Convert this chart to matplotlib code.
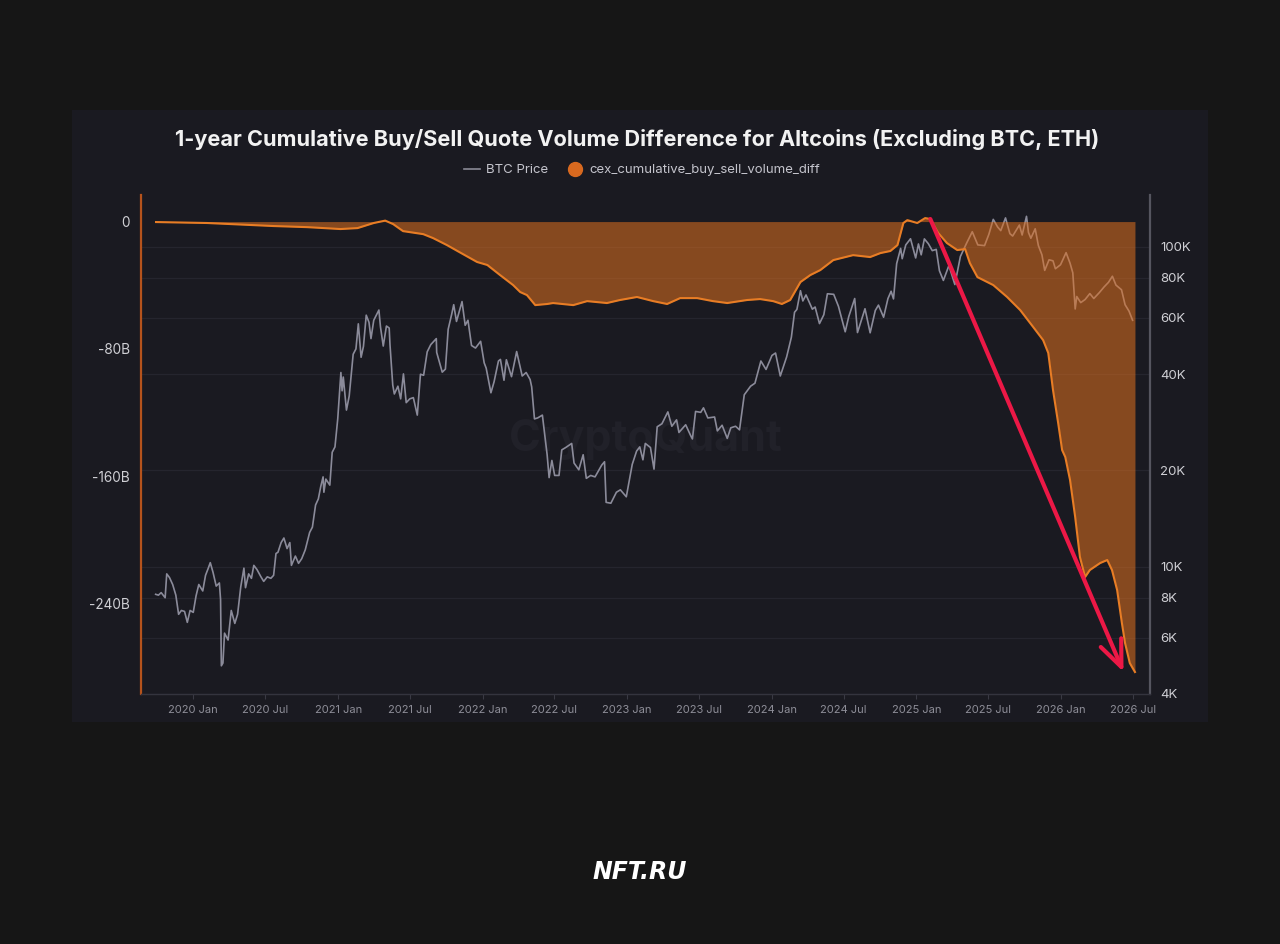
import matplotlib
matplotlib.use("Agg")
import matplotlib.pyplot as plt
import matplotlib.dates as mdates
from matplotlib.lines import Line2D
from matplotlib.patches import Rectangle
from matplotlib.ticker import NullLocator
import pandas as pd

plt.rcParams['font.family'] = ['Inter', 'DejaVu Sans']

# ---------------- data ----------------
diff_dates = [
    "2019-09-29", "2020-02-05", "2020-07-21", "2020-10-15", "2021-01-07", "2021-02-19",
    "2021-04-01", "2021-04-30", "2021-05-20", "2021-06-14", "2021-08-04", "2021-08-29",
    "2021-10-03", "2021-11-12", "2021-12-18", "2022-01-13", "2022-02-14", "2022-03-19",
    "2022-04-06", "2022-04-23", "2022-05-14", "2022-06-13", "2022-06-28", "2022-08-18",
    "2022-09-22", "2022-11-11", "2022-12-14", "2023-01-26", "2023-03-08", "2023-04-12",
    "2023-05-15", "2023-06-27", "2023-08-06", "2023-09-11", "2023-10-31", "2023-12-03",
    "2024-01-05", "2024-01-27", "2024-02-17", "2024-03-14", "2024-04-08", "2024-05-03",
    "2024-06-05", "2024-07-25", "2024-09-06", "2024-10-02", "2024-10-27", "2024-11-14",
    "2024-11-29", "2024-12-09", "2025-01-03", "2025-01-23", "2025-02-05", "2025-02-25",
    "2025-03-19", "2025-04-14", "2025-05-04", "2025-05-16", "2025-06-04", "2025-07-14",
    "2025-08-18", "2025-09-20", "2025-10-23", "2025-11-17", "2025-11-30", "2025-12-12",
    "2025-12-25", "2026-01-04", "2026-01-12", "2026-01-24", "2026-02-06", "2026-02-18",
    "2026-03-03", "2026-03-15", "2026-04-10", "2026-04-28", "2026-05-10", "2026-05-23",
    "2026-06-04", "2026-06-12", "2026-06-24", "2026-07-07",
]
diff_values_b = [
    -0.3, -0.9, -2.8, -3.5, -4.7, -4.1,
    -0.9, 0.6, -1.6, -6.0, -7.9, -10.4,
    -14.8, -20.4, -25.4, -27.3, -33.6, -39.9,
    -44.3, -46.2, -52.5, -51.8, -51.2, -52.5,
    -50.0, -51.2, -49.3, -47.4, -50.0, -51.8,
    -48.1, -48.1, -50.0, -51.2, -49.3, -48.7,
    -50.0, -51.8, -49.3, -38.0, -33.6, -30.5,
    -24.2, -21.1, -22.3, -19.8, -18.5, -14.8,
    -0.9, 0.9, -0.9, 2.2, 1.6, -7.2,
    -13.5, -17.9, -17.3, -26.1, -34.9, -39.9,
    -47.4, -55.6, -66.3, -74.5, -82.6, -105.9,
    -126.6, -143.6, -148.0, -162.4, -185.7, -210.8,
    -223.4, -219.0, -214.6, -212.7, -219.0, -231.6,
    -252.3, -264.9, -277.5, -283.1,
]

btc_dates = [
    "2019-09-28", "2019-10-05", "2019-10-12", "2019-10-22", "2019-10-26", "2019-11-02",
    "2019-11-10", "2019-11-18", "2019-11-25", "2019-12-02", "2019-12-10", "2019-12-17",
    "2019-12-24", "2020-01-01", "2020-01-08", "2020-01-15", "2020-01-25", "2020-02-01",
    "2020-02-08", "2020-02-13", "2020-02-20", "2020-02-28", "2020-03-07", "2020-03-10",
    "2020-03-12", "2020-03-16", "2020-03-20", "2020-03-29", "2020-04-06", "2020-04-15",
    "2020-04-22", "2020-04-30", "2020-05-08", "2020-05-12", "2020-05-20", "2020-05-27",
    "2020-06-02", "2020-06-10", "2020-06-20", "2020-06-27", "2020-07-06", "2020-07-15",
    "2020-07-22", "2020-07-28", "2020-08-02", "2020-08-10", "2020-08-17", "2020-08-25",
    "2020-09-01", "2020-09-05", "2020-09-15", "2020-09-23", "2020-10-01", "2020-10-10",
    "2020-10-21", "2020-10-28", "2020-11-05", "2020-11-12", "2020-11-18", "2020-11-24",
    "2020-11-26", "2020-12-01", "2020-12-11", "2020-12-17", "2020-12-24", "2020-12-31",
    "2021-01-08", "2021-01-11", "2021-01-14", "2021-01-22", "2021-01-29", "2021-02-08",
    "2021-02-15", "2021-02-21", "2021-02-28", "2021-03-06", "2021-03-13", "2021-03-20",
    "2021-03-25", "2021-04-01", "2021-04-14", "2021-04-18", "2021-04-25", "2021-05-03",
    "2021-05-10", "2021-05-12", "2021-05-19", "2021-05-23", "2021-06-01", "2021-06-08",
    "2021-06-15", "2021-06-22", "2021-07-01", "2021-07-10", "2021-07-20", "2021-07-28",
    "2021-08-05", "2021-08-14", "2021-08-23", "2021-09-06", "2021-09-07", "2021-09-21",
    "2021-09-29", "2021-10-06", "2021-10-15", "2021-10-20", "2021-10-27", "2021-11-08",
    "2021-11-10", "2021-11-18", "2021-11-25", "2021-12-04", "2021-12-14", "2021-12-27",
    "2022-01-05", "2022-01-10", "2022-01-22", "2022-01-30", "2022-02-10", "2022-02-15",
    "2022-02-24", "2022-03-02", "2022-03-15", "2022-03-28", "2022-04-11", "2022-04-21",
    "2022-05-01", "2022-05-05", "2022-05-12", "2022-05-20", "2022-06-01", "2022-06-13",
    "2022-06-18", "2022-06-25", "2022-07-02", "2022-07-13", "2022-07-20", "2022-07-30",
    "2022-08-14", "2022-08-20", "2022-09-01", "2022-09-12", "2022-09-20", "2022-10-01",
    "2022-10-12", "2022-10-29", "2022-11-05", "2022-11-09", "2022-11-21", "2022-12-05",
    "2022-12-15", "2022-12-30", "2023-01-14", "2023-01-25", "2023-02-02", "2023-02-10",
    "2023-02-16", "2023-03-01", "2023-03-10", "2023-03-18", "2023-03-30", "2023-04-14",
    "2023-04-24", "2023-05-06", "2023-05-12", "2023-05-29", "2023-06-10", "2023-06-15",
    "2023-06-23", "2023-07-06", "2023-07-13", "2023-07-24", "2023-08-10", "2023-08-17",
    "2023-08-29", "2023-09-11", "2023-09-20", "2023-10-02", "2023-10-12", "2023-10-24",
    "2023-11-09", "2023-11-20", "2023-12-05", "2023-12-18", "2024-01-02", "2024-01-11",
    "2024-01-23", "2024-02-08", "2024-02-20", "2024-02-28", "2024-03-05", "2024-03-14",
    "2024-03-20", "2024-03-28", "2024-04-13", "2024-04-20", "2024-05-01", "2024-05-12",
    "2024-05-21", "2024-06-06", "2024-06-18", "2024-07-05", "2024-07-14", "2024-07-29",
    "2024-08-05", "2024-08-24", "2024-09-06", "2024-09-19", "2024-09-27", "2024-10-10",
    "2024-10-21", "2024-10-29", "2024-11-04", "2024-11-12", "2024-11-22", "2024-11-26",
    "2024-12-05", "2024-12-17", "2024-12-30", "2025-01-06", "2025-01-13", "2025-01-21",
    "2025-01-31", "2025-02-10", "2025-02-20", "2025-02-28", "2025-03-10", "2025-03-24",
    "2025-04-08", "2025-04-22", "2025-05-08", "2025-05-22", "2025-06-05", "2025-06-22",
    "2025-07-03", "2025-07-14", "2025-07-25", "2025-08-02", "2025-08-14", "2025-08-25",
    "2025-09-01", "2025-09-18", "2025-09-25", "2025-10-06", "2025-10-11", "2025-10-17",
    "2025-10-28", "2025-11-05", "2025-11-14", "2025-11-21", "2025-12-02", "2025-12-12",
    "2025-12-18", "2025-12-31", "2026-01-14", "2026-01-24", "2026-01-31", "2026-02-06",
    "2026-02-10", "2026-02-20", "2026-03-03", "2026-03-15", "2026-03-25", "2026-04-08",
    "2026-04-20", "2026-05-01", "2026-05-11", "2026-05-20", "2026-06-03", "2026-06-12",
    "2026-06-22", "2026-07-01",
]
btc_price = [
    8200, 8150, 8300, 8000, 9500, 9250,
    8800, 8150, 7100, 7300, 7250, 6700,
    7300, 7200, 8100, 8800, 8400, 9400,
    9900, 10300, 9600, 8700, 8900, 7900,
    4900, 5000, 6200, 5900, 7300, 6650,
    7100, 8650, 9900, 8600, 9500, 9200,
    10100, 9800, 9300, 9000, 9300, 9200,
    9400, 11000, 11100, 11900, 12300, 11400,
    11900, 10100, 10800, 10250, 10600, 11300,
    12800, 13300, 15600, 16300, 17800, 19100,
    17100, 18800, 18000, 22800, 23700, 29000,
    40500, 35500, 39200, 30900, 34200, 46200,
    48000, 57500, 45200, 48900, 61200, 58100,
    51700, 59000, 63500, 56200, 49000, 56600,
    55800, 49500, 37000, 34700, 36700, 33500,
    40100, 32600, 33500, 33800, 29800, 40000,
    39700, 47000, 49500, 51700, 46800, 40600,
    41500, 55300, 61700, 66000, 58500, 66000,
    67500, 56900, 59000, 49200, 48300, 50700,
    43400, 41800, 35000, 37900, 44000, 44500,
    38300, 44400, 39300, 47100, 39500, 40500,
    38500, 36500, 29000, 29200, 29800, 22400,
    19000, 21500, 19300, 19300, 23200, 23600,
    24300, 21100, 20100, 22400, 18900, 19300,
    19100, 20800, 21300, 15900, 15800, 17100,
    17400, 16550, 20900, 23000, 23700, 21600,
    24300, 23600, 20200, 27400, 28000, 30500,
    27500, 28800, 26300, 27800, 25800, 25100,
    30600, 30400, 31400, 29200, 29400, 26600,
    27700, 25200, 27200, 27500, 26800, 34500,
    36700, 37500, 44000, 41400, 45800, 46600,
    39500, 45300, 52200, 62500, 63800, 73000,
    67800, 70800, 63900, 64900, 57600, 61400,
    71400, 71100, 65200, 54300, 60600, 69000,
    54000, 64100, 53900, 63300, 65800, 60300,
    69000, 72700, 68800, 88700, 99000, 91900,
    101500, 106100, 92400, 102200, 94500, 106000,
    102400, 97400, 98300, 84300, 78600, 87500,
    76300, 93400, 103000, 111600, 101500, 101000,
    109600, 122000, 115500, 112500, 123300, 110100,
    108200, 117100, 109000, 124700, 111000, 106500,
    114000, 101000, 94500, 84500, 91200, 90500,
    85500, 88000, 96000, 89000, 83000, 64000,
    70000, 67000, 68500, 71500, 69000, 72000,
    75000, 77500, 81000, 76000, 73500, 66000,
    63000, 59000,
]

left_ticks = [0, -80, -160, -240]
left_tick_labels = ["0", "-80B", "-160B", "-240B"]
right_ticks = [4000, 6000, 8000, 10000, 20000, 40000, 60000, 80000, 100000]
right_tick_labels = ["4K", "6K", "8K", "10K", "20K", "40K", "60K", "80K", "100K"]

title = "1-year Cumulative Buy/Sell Quote Volume Difference for Altcoins (Excluding BTC, ETH)"
legend_labels = ["BTC Price", "cex_cumulative_buy_sell_volume_diff"]

arrow_tail = ("2025-02-05", 1.6)
arrow_tip = ("2026-06-08", -283.0)

# ---------------- figure ----------------
W, H = 1280, 944
fig = plt.figure(figsize=(W / 100, H / 100), dpi=100, facecolor="#161616")

# panel background (behind the axes)
fig.patches.append(Rectangle((72 / W, 1 - 722 / H), (1208 - 72) / W, (722 - 110) / H,
                             transform=fig.transFigure, facecolor="#1a1a21",
                             edgecolor="none", zorder=-5))

ax = fig.add_axes([141 / W, 250 / H, 1009 / W, 499 / H])
ax2 = ax.twinx()
ax2.set_zorder(1)
ax.set_zorder(2)
ax.patch.set_visible(False)
ax2.patch.set_visible(False)

dd = pd.to_datetime(diff_dates)
bd = pd.to_datetime(btc_dates)

# BTC price (right, log)
ax2.plot(bd, btc_price, color="#8b8b9a", lw=1.2, zorder=3)
ax2.set_yscale("log")
ax2.set_ylim(4000, 145400)
ax2.set_yticks(right_ticks)
ax2.set_yticklabels(right_tick_labels)
ax2.yaxis.set_minor_locator(NullLocator())
ax2.grid(axis="y", color="#25252e", lw=0.9, zorder=0)
ax2.tick_params(axis="y", length=0, pad=7.5, labelcolor="#cfcfd4", labelsize=9.5)

# watermark
ax2.text(0.5, 0.51, "CryptoQuant", transform=ax2.transAxes, ha="center", va="center",
         fontsize=31, fontweight="bold", color="#212129", zorder=1)

# cumulative diff (left)
ax.fill_between(dd, 0, diff_values_b, color="#e0701f", alpha=0.55, lw=0, zorder=2)
ax.plot(dd, diff_values_b, color="#e87d25", lw=1.5, zorder=3)
ax.set_ylim(-296.9, 16.7)
ax.set_yticks(left_ticks)
ax.set_yticklabels(left_tick_labels)
ax.tick_params(axis="y", length=0, pad=8, labelcolor="#cfcfd4", labelsize=9.8)

ax.set_xlim(pd.Timestamp("2019-08-22"), pd.Timestamp("2026-08-14"))
ax.xaxis.set_major_locator(mdates.MonthLocator(bymonth=[1, 7]))
ax.xaxis.set_major_formatter(mdates.DateFormatter("%Y %b"))
ax.tick_params(axis="x", length=3.6, width=0.8, color="#3a3a44", pad=4,
               labelcolor="#8e8e98", labelsize=8)

for s in ["top", "right"]:
    ax.spines[s].set_visible(False)
ax.spines["left"].set_color("#b5531c")
ax.spines["left"].set_linewidth(1.6)
ax.spines["bottom"].set_color("#34343e")
ax.spines["bottom"].set_linewidth(1.0)
for s in ["top", "left", "bottom"]:
    ax2.spines[s].set_visible(False)
ax2.spines["right"].set_color("#55555f")
ax2.spines["right"].set_linewidth(1.6)

# red arrow
ax.annotate("", xy=(pd.Timestamp(arrow_tip[0]), arrow_tip[1]),
            xytext=(pd.Timestamp(arrow_tail[0]), arrow_tail[1]),
            arrowprops=dict(arrowstyle="->,head_length=1.9,head_width=0.8",
                            color="#ec1846", lw=3, shrinkA=0, shrinkB=0),
            zorder=6)

# title & legend
fig.text(637 / W, 1 - 139.5 / H, title, ha="center", va="center", fontsize=15.6,
         fontweight="bold", color="#f2f2f2")
handles = [Line2D([], [], color="#8a8a96", lw=1.2),
           Line2D([], [], marker="o", color="#d8691f", ls="none", markersize=10)]
fig.legend(handles, legend_labels, loc="center", bbox_to_anchor=(642 / W, 1 - 170 / H),
           ncol=2, frameon=False, fontsize=9.5, labelcolor="#c4c4cc",
           handlelength=1.2, columnspacing=1.4, handletextpad=0.5)

# bottom logo
fig.text(640 / W, 1 - 872 / H, "NFT.RU", ha="center", va="center", fontsize=17,
         fontweight="heavy", fontstyle="italic", color="#ffffff",
         family=["DejaVu Sans"])

fig.savefig("out.png", dpi=100, facecolor=fig.get_facecolor())
